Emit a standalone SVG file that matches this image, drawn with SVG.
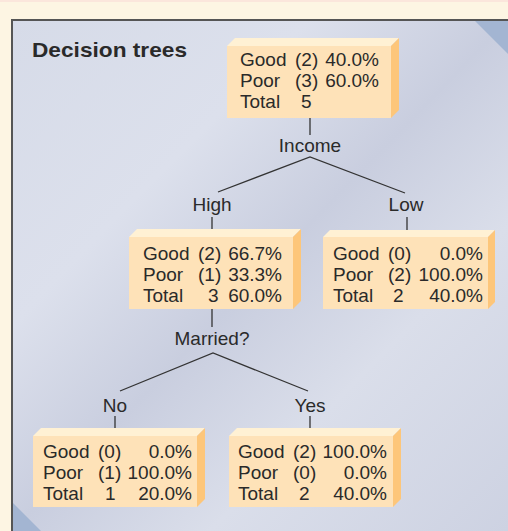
<svg xmlns="http://www.w3.org/2000/svg" width="508" height="531" viewBox="0 0 508 531">
<defs>
<linearGradient id="panel" x1="0" y1="0" x2="1" y2="1" gradientUnits="objectBoundingBox">
<stop offset="0" stop-color="#d6dbe8"/>
<stop offset="0.3" stop-color="#dce0ec"/>
<stop offset="0.5" stop-color="#c9cedf"/>
<stop offset="0.7" stop-color="#dadeea"/>
<stop offset="1" stop-color="#cdd2e2"/>
</linearGradient>
<style>
.front{fill:#fee2b8}
.top{fill:#fff1d4}
.side{fill:#fdc67a}
.t{font-family:"Liberation Sans",Arial,sans-serif;font-size:19px;fill:#2a2a2a}
.e{text-anchor:end}
.m{text-anchor:middle}
.ln{stroke:#333;stroke-width:1.3;fill:none}
</style>
</defs>
<rect x="0" y="0" width="508" height="531" fill="#fdf5e3"/>
<rect x="0" y="0" width="508" height="2" fill="#fbe6dc"/>
<rect x="12" y="20" width="496" height="511" fill="url(#panel)"/>
<polygon points="475,21 508,21 508,54" fill="#a3b5d2"/>
<polygon points="13,503 13,531 41,531" fill="#a3b5d2"/>
<line x1="12" y1="20" x2="508" y2="20" stroke="#555" stroke-width="2"/>
<line x1="12" y1="19" x2="12" y2="531" stroke="#555" stroke-width="2"/>
<text x="32" y="57" font-family="Liberation Sans,Arial,sans-serif" font-size="21" font-weight="bold" fill="#2a2a2a" textLength="155" lengthAdjust="spacingAndGlyphs">Decision trees</text>

<g id="connectors">
<line class="ln" x1="310" y1="118" x2="310" y2="135"/>
<polyline class="ln" points="218,192 310,157 405,193"/>
<line class="ln" x1="212" y1="217" x2="212" y2="232"/>
<line class="ln" x1="407" y1="217" x2="407" y2="232"/>
<line class="ln" x1="212" y1="309" x2="212" y2="327"/>
<polyline class="ln" points="120,391 213,353 308,391"/>
<line class="ln" x1="115" y1="416" x2="115" y2="431"/>
<line class="ln" x1="310" y1="416" x2="310" y2="431"/>
<text class="t m" x="310" y="152">Income</text>
<text class="t m" x="212" y="211">High</text>
<text class="t m" x="406" y="211">Low</text>
<text class="t m" x="212" y="345">Married?</text>
<text class="t m" x="115" y="412">No</text>
<text class="t m" x="310" y="412">Yes</text>
</g>

<g id="root">
<polygon class="top" points="227,46 235,38 399,38 391,46"/>
<polygon class="side" points="391,46 399,38 399,110 391,118"/>
<rect class="front" x="227" y="46" width="164" height="72"/>
<text class="t" x="240" y="66">Good</text><text class="t" x="295" y="66">(2)</text><text class="t e" x="379" y="66">40.0%</text>
<text class="t" x="240" y="87">Poor</text><text class="t" x="295" y="87">(3)</text><text class="t e" x="379" y="87">60.0%</text>
<text class="t" x="240" y="108">Total</text><text class="t" x="301" y="108">5</text>
</g>

<g id="high">
<polygon class="top" points="129,237 137,229 301,229 293,237"/>
<polygon class="side" points="293,237 301,229 301,301 293,309"/>
<rect class="front" x="129" y="237" width="164" height="72"/>
<text class="t" x="143" y="260">Good</text><text class="t" x="198" y="260">(2)</text><text class="t e" x="282" y="260">66.7%</text>
<text class="t" x="143" y="281">Poor</text><text class="t" x="198" y="281">(1)</text><text class="t e" x="282" y="281">33.3%</text>
<text class="t" x="143" y="302">Total</text><text class="t" x="208" y="302">3</text><text class="t e" x="282" y="302">60.0%</text>
</g>

<g id="low">
<polygon class="top" points="323,237 330,230 495,230 488,237"/>
<polygon class="side" points="488,237 495,230 495,302 488,309"/>
<rect class="front" x="323" y="237" width="165" height="72"/>
<text class="t" x="333" y="260">Good</text><text class="t" x="388" y="260">(0)</text><text class="t e" x="483" y="260">0.0%</text>
<text class="t" x="333" y="281">Poor</text><text class="t" x="388" y="281">(2)</text><text class="t e" x="483" y="281">100.0%</text>
<text class="t" x="333" y="302">Total</text><text class="t" x="393" y="302">2</text><text class="t e" x="483" y="302">40.0%</text>
</g>

<g id="no">
<polygon class="top" points="33,436 41,428 205,428 197,436"/>
<polygon class="side" points="197,436 205,428 205,499 197,507"/>
<rect class="front" x="33" y="436" width="164" height="71"/>
<text class="t" x="43" y="458">Good</text><text class="t" x="98" y="458">(0)</text><text class="t e" x="192" y="458">0.0%</text>
<text class="t" x="43" y="479">Poor</text><text class="t" x="98" y="479">(1)</text><text class="t e" x="192" y="479">100.0%</text>
<text class="t" x="43" y="500">Total</text><text class="t" x="105" y="500">1</text><text class="t e" x="192" y="500">20.0%</text>
</g>

<g id="yes">
<polygon class="top" points="229,436 237,428 401,428 393,436"/>
<polygon class="side" points="393,436 401,428 401,499 393,507"/>
<rect class="front" x="229" y="436" width="164" height="71"/>
<text class="t" x="238" y="458">Good</text><text class="t" x="293" y="458">(2)</text><text class="t e" x="387" y="458">100.0%</text>
<text class="t" x="238" y="479">Poor</text><text class="t" x="293" y="479">(0)</text><text class="t e" x="387" y="479">0.0%</text>
<text class="t" x="238" y="500">Total</text><text class="t" x="299" y="500">2</text><text class="t e" x="387" y="500">40.0%</text>
</g>
</svg>
